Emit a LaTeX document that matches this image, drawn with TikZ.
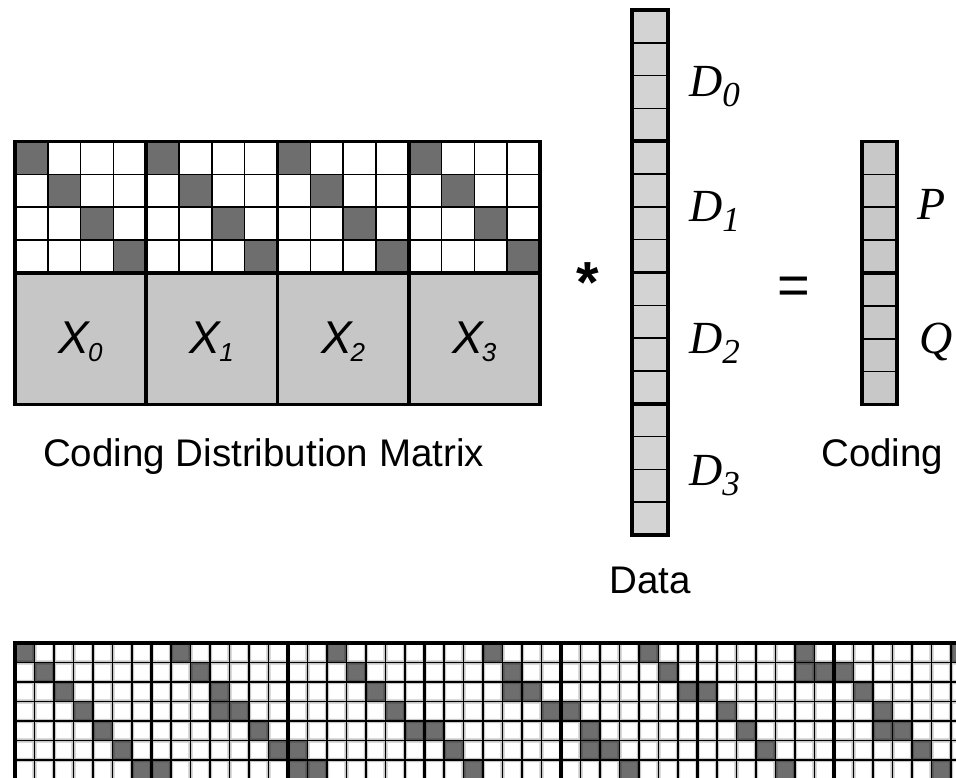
\documentclass[tikz,border=0pt]{standalone}
\usepackage{fontspec}
\setmainfont{Liberation Serif}
\setsansfont{Liberation Sans}
\definecolor{cellDark}{HTML}{6E6E6E}
\definecolor{xFill}{HTML}{C6C6C6}
\definecolor{dataFill}{HTML}{D3D3D3}
\definecolor{codeFill}{HTML}{C8C8C8}
\tikzset{
  thinrule/.style={line width=1.6pt, draw=black},
  thickrule/.style={line width=3.8pt, draw=black},
  gridhalo/.style={line width=4.4pt, draw=black},
  gridrule/.style={line width=1.6pt, draw=black},
  blockrule/.style={line width=3.6pt, draw=black},
  sanslabel/.style={inner sep=0pt, font=\sffamily\fontsize{38.5}{40}\selectfont},
  symlabel/.style={inner sep=0pt, font=\sffamily\fontsize{56}{56}\selectfont},
  vecl/.style={inner sep=0pt, anchor=base west, font=\itshape\fontsize{46}{46}\selectfont},
  xlabel/.style={inner sep=0pt, anchor=base, font=\sffamily\itshape\fontsize{46}{46}\selectfont}
}
\newcommand{\lowsub}[2]{\raisebox{-#1}{\fontsize{35}{35}\selectfont #2}}
\newcommand{\xsub}[1]{\kern-1pt\raisebox{-8pt}{\fontsize{26}{26}\selectfont #1}}
\begin{document}
\begin{tikzpicture}[x=1pt,y=-1pt]
\useasboundingbox (0,0) rectangle (956,778);
\clip (0,0) rectangle (956,778);

% ---- coding distribution matrix: identity blocks over X blocks ----
\foreach \b in {0,...,3}{
  \foreach \r in {0,...,3}{
    \fill[cellDark] ({15+131.25*\b+32.8125*\r},{141.5+32.875*\r}) rectangle ++(32.8125,32.875);
  }
}
\fill[xFill] (15,273) rectangle (540,404.5);
\foreach \k in {1,...,15}{
  \draw[thinrule] ({15+32.8125*\k},141.5) -- ({15+32.8125*\k},273);
}
\foreach \i in {1,2,3}{
  \draw[thinrule] (15,{141.5+32.875*\i}) -- (540,{141.5+32.875*\i});
}
\foreach \b in {1,2,3}{
  \draw[thickrule] ({15+131.25*\b},141.5) -- ({15+131.25*\b},404.5);
}
\draw[thickrule] (15,273) -- (540,273);
\draw[thickrule] (15,141.5) rectangle (540,404.5);

\foreach \b in {0,...,3}{
  \node[xlabel] (x\b) at ({80.6+131.25*\b},353) {X\xsub{\b}};
}
\node[sanslabel, anchor=base west] (cdm) at (43,466) {Coding Distribution Matrix};

% ---- multiplication sign ----
\node[symlabel, anchor=base, font=\sffamily\bfseries\fontsize{58}{58}\selectfont] (times) at (588,302) {*};

% ---- data column ----
\fill[dataFill] (632,10) rectangle (668,535);
\foreach \k in {1,...,15}{
  \draw[thinrule] (632,{10+32.8125*\k}) -- (668,{10+32.8125*\k});
}
\foreach \k in {1,2,3}{
  \draw[thickrule] (632,{10+131.25*\k}) -- (668,{10+131.25*\k});
}
\draw[thickrule] (632,10) rectangle (668,535);
\node[vecl] (d0) at (689,97) {D\lowsub{10pt}{0}};
\node[vecl] (d1) at (689,222) {D\lowsub{10pt}{1}};
\node[vecl] (d2) at (689,353) {D\lowsub{10pt}{2}};
\node[vecl] (d3) at (689,485) {D\lowsub{10pt}{3}};
\node[sanslabel, anchor=base] (data) at (650,593) {Data};

% ---- equals sign ----
\node[symlabel, anchor=base] (eq) at (794,304) {=};

% ---- coding column ----
\fill[codeFill] (862,141.5) rectangle (897,404.5);
\foreach \k in {1,...,7}{
  \draw[thinrule] (862,{141.5+32.875*\k}) -- (897,{141.5+32.875*\k});
}
\draw[thickrule] (862,273) -- (897,273);
\draw[thickrule] (862,141.5) rectangle (897,404.5);
\node[vecl] (p) at (917,220) {P};
\node[vecl] (q) at (919,353) {Q};
\node[sanslabel, anchor=base west] (coding) at (821,466) {Coding};

% ---- 7x7 liberation blocks ----
\foreach \i in {0,...,6}{
  \foreach \r in {0,...,6}{
    \pgfmathtruncatemacro{\c}{7*\i+mod(\r+\i,7)}
    \fill[cellDark] ({15+19.5*\c},{643+19.5*\r}) rectangle ++(19.5,19.5);
  }
}
\foreach \i/\r/\j in {1/3/3,2/6/0,3/2/4,4/5/1,5/1/5,6/4/2}{
  \fill[cellDark] ({15+19.5*(7*\i+\j)},{643+19.5*\r}) rectangle ++(19.5,19.5);
}
% soft edge of the grid lines, then the lines themselves
\begin{scope}[transparency group, opacity=0.22]
\foreach \k in {1,...,48}{
  \draw[gridhalo] ({15+19.5*\k},643) -- ({15+19.5*\k},779.5);
}
\foreach \k in {1,...,6}{
  \draw[gridhalo] (15,{643+19.5*\k}) -- (970.5,{643+19.5*\k});
}
\end{scope}
\foreach \k in {1,...,48}{
  \draw[gridrule] ({15+19.5*\k},643) -- ({15+19.5*\k},779.5);
}
\foreach \k in {1,...,6}{
  \draw[gridrule] (15,{643+19.5*\k}) -- (970.5,{643+19.5*\k});
}
\foreach \b in {1,...,6}{
  \draw[blockrule] ({15+136.5*\b},643) -- ({15+136.5*\b},779.5);
}
\draw[blockrule] (15,643) rectangle (970.5,779.5);
\end{tikzpicture}
\end{document}
